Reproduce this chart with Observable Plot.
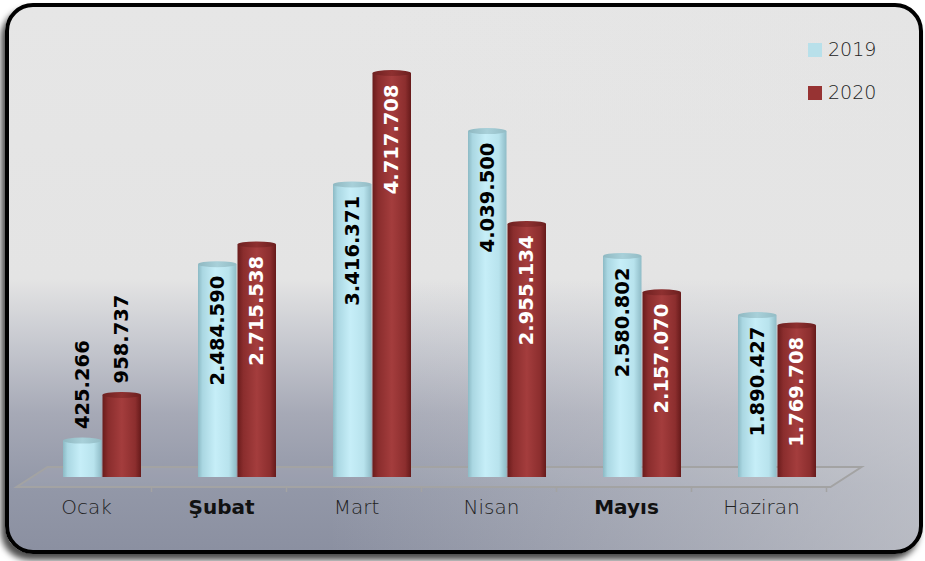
<!DOCTYPE html>
<html>
<head>
<meta charset="utf-8">
<script src="https://cdn.jsdelivr.net/npm/d3@7"></script>
<script src="https://cdn.jsdelivr.net/npm/@observablehq/plot@0.6"></script>
<style>
  html, body { margin: 0; padding: 0; background: #ffffff; }
  #wrap { position: relative; width: 925px; height: 561px; overflow: hidden; }
  #box {
    position: absolute; left: 5px; top: 3px; width: 910px; height: 543px;
    border: 4px solid #000; border-radius: 28px;
    box-shadow: -4px 6px 6px rgba(0,0,0,0.7);
    background:
      linear-gradient(to right, rgba(228,228,228,0) 35%, rgba(228,228,228,0.5) 100%),
      linear-gradient(to bottom, #e6e6e6 0%, #e4e4e4 50%, #c6c8cf 62%, #a6a9b6 75%, #9398a8 88%, #8b90a1 100%);
  }
  #chart { position: absolute; left: 0; top: 0; }
  .legend { position: absolute; left: 808px; font: 200 19px "DejaVu Sans", sans-serif; color: #222; }
  .legend span.sw { position: absolute; left: 0; width: 14px; height: 14px; }
  .legend span.lb { position: absolute; left: 20px; white-space: nowrap; line-height: 22px; }
</style>
</head>
<body>
<div id="wrap">
  <div id="box"></div>
  <div id="chart"></div>
  <div class="legend" style="top:43px"><span class="sw" style="background:#b8e0ea"></span><span class="lb" style="top:-5px">2019</span></div>
  <div class="legend" style="top:86px"><span class="sw" style="background:#973333"></span><span class="lb" style="top:-5px">2020</span></div>
</div>
<script>
const months = ["Ocak", "Şubat", "Mart", "Nisan", "Mayıs", "Haziran"];
const boldMonths = ["Şubat", "Mayıs"];
const values2019 = [425266, 2484590, 3416371, 4039500, 2580802, 1890427];
const values2020 = [958737, 2715538, 4717708, 2955134, 2157070, 1769708];
const seriesNames = ["2019", "2020"];

const fmt = d3.formatLocale({decimal: ",", thousands: ".", grouping: [3], currency: ["", ""]}).format(",d");

const rows2019 = months.map((m, i) => ({month: m, year: seriesNames[0], value: values2019[i]}));
const rows2020 = months.map((m, i) => ({month: m, year: seriesNames[1], value: values2020[i]}));
const maxV = d3.max([...values2019, ...values2020]);
const inside = d => d.value >= 1000000;
const above = d => d.value < 1000000;

const valueFont = {fontFamily: "DejaVu Sans", fontWeight: "bold", fontSize: 19.5};
const monthFont = {fontSize: 20, fontFamily: "DejaVu Sans, sans-serif"};

const chart = Plot.plot({
  width: 925,
  height: 561,
  marginTop: 73,
  marginBottom: 84,
  marginLeft: 32,
  marginRight: 79,
  style: {background: "transparent", overflow: "visible"},
  x: {domain: months, paddingInner: 0.425, paddingOuter: 0.2125, axis: null},
  y: {domain: [0, maxV], axis: null},
  marks: [
    Plot.barY(rows2019, {x: "month", y: "value", fill: "url(#cyl2019)", insetRight: 39.5}),
    Plot.barY(rows2020, {x: "month", y: "value", fill: "url(#cyl2020)", insetLeft: 39.5}),
    Plot.barY(rows2019, {x: "month", y1: "value", y2: "value", insetTop: -3, insetBottom: -3, insetRight: 39.5, rx: 19, ry: 3, fill: "url(#cap2019)"}),
    Plot.barY(rows2020, {x: "month", y1: "value", y2: "value", insetTop: -3, insetBottom: -3, insetLeft: 39.5, rx: 19, ry: 3, fill: "url(#cap2020)"}),
    Plot.text(rows2019, {filter: inside, x: "month", y: "value", text: d => fmt(d.value), rotate: -90, textAnchor: "end", dx: -20, dy: 11, fill: "#000", ...valueFont}),
    Plot.text(rows2019, {filter: above, x: "month", y: "value", text: d => fmt(d.value), rotate: -90, textAnchor: "start", dx: -20, dy: -12, fill: "#000", ...valueFont}),
    Plot.text(rows2020, {filter: inside, x: "month", y: "value", text: d => fmt(d.value), rotate: -90, textAnchor: "end", dx: 19, dy: 11, fill: "#fff", ...valueFont}),
    Plot.text(rows2020, {filter: above, x: "month", y: "value", text: d => fmt(d.value), rotate: -90, textAnchor: "start", dx: 19, dy: -12, fill: "#000", ...valueFont}),
    Plot.text(months.filter(m => !boldMonths.includes(m)), {x: d => d, frameAnchor: "bottom", dy: 36, dx: -16, text: d => d, fontWeight: 200, fill: "#222", ...monthFont}),
    Plot.text(boldMonths, {x: d => d, frameAnchor: "bottom", dy: 36, dx: -16, text: d => d, fontWeight: "bold", fill: "#111", ...monthFont})
  ]
});

// gradients for cylinder look + 3D floor, derived from the plot's scales
const svg = d3.select(chart);
const defs = svg.insert("defs", ":first-child");
function grad(id, stops) {
  const g = defs.append("linearGradient").attr("id", id).attr("x1", 0).attr("x2", 1).attr("y1", 0).attr("y2", 0);
  stops.forEach(([o, c]) => g.append("stop").attr("offset", o).attr("stop-color", c));
}
grad("cyl2019", [[0, "#8cbac5"], [0.12, "#aad7e2"], [0.45, "#c6eef8"], [0.8, "#b8e3ed"], [1, "#8fbcc7"]]);
grad("cyl2020", [[0, "#6a1c1c"], [0.15, "#8a2d2d"], [0.5, "#a43d3d"], [0.85, "#8c2e2e"], [1, "#661a1a"]]);
grad("cap2019", [[0, "#8fb8c1"], [0.5, "#a8d0d9"], [1, "#93bcc5"]]);
grad("cap2020", [[0, "#6e2020"], [0.5, "#8e3030"], [1, "#6c1f1f"]]);

const xs = chart.scale("x");
const ys = chart.scale("y");
const [x0, x1] = xs.range;
const y0 = ys.apply(0);
const skew = 15.5, depth = 10;
const floor = svg.insert("g", "g");
floor.append("path")
  .attr("d", `M${x0 - skew},${y0 + depth}L${x1 - skew},${y0 + depth}L${x1 + skew},${y0 - depth}L${x0 + skew},${y0 - depth}Z`)
  .attr("fill", "rgba(255,255,255,0.06)").attr("stroke", "#a3a3a3").attr("stroke-width", 2).attr("stroke-linejoin", "miter");
const step = xs.step;
months.forEach((m, i) => {
  const bx = x0 + (i + 1) * step - skew;
  floor.append("line").attr("x1", bx).attr("x2", bx).attr("y1", y0 + depth).attr("y2", y0 + depth + 5).attr("stroke", "#a3a3a3").attr("stroke-width", 1.5);
});

document.getElementById("chart").appendChild(chart);
</script>
</body>
</html>
